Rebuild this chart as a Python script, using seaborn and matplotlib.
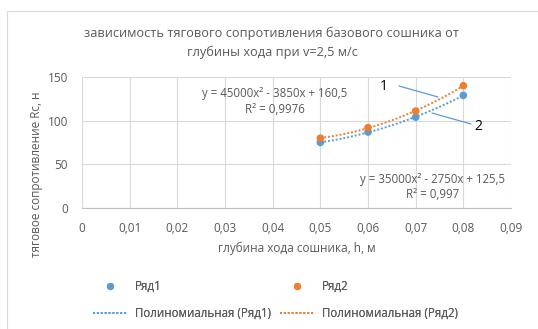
import numpy as np
import pandas as pd
import matplotlib
matplotlib.use("Agg")
import matplotlib.pyplot as plt
import seaborn as sns
from matplotlib.lines import Line2D
from matplotlib.patches import Rectangle

# data
depth = [0.05, 0.06, 0.07, 0.08]
row1 = [75, 87, 104, 129]
row2 = [80, 92, 111, 140]
series_names = ["Ряд1", "Ряд2"]
trend_names = ["Полиномиальная (Ряд1)", "Полиномиальная (Ряд2)"]
x_ticks = [0, 0.01, 0.02, 0.03, 0.04, 0.05, 0.06, 0.07, 0.08, 0.09]
x_tick_labels = ["0", "0,01", "0,02", "0,03", "0,04", "0,05", "0,06", "0,07", "0,08", "0,09"]
y_ticks = [0, 50, 100, 150]
eq1 = "y = 45000x² - 3850x + 160,5\nR² = 0,9976"
eq2 = "y = 35000x² - 2750x + 125,5\nR² = 0,997"
title = "зависимость тягового сопротивления базового сошника от\nглубины хода при v=2,5 м/с"
xlabel = "глубина хода сошника, h, м"
ylabel = "тяговое сопротивление Rc, н"

sns.set_theme(style="white")
plt.rcParams['font.family'] = ['Open Sans', 'DejaVu Sans']

BLUE = "#5B9BD5"
ORANGE = "#ED7D31"
GRAY = "#595959"
GRID = "#D9D9D9"

fig = plt.figure(figsize=(5.38, 3.29), dpi=100)
W, H = 538, 329
ax = fig.add_axes([82 / W, 1 - 208 / H, (511 - 82) / W, (208 - 77) / H])

df = pd.DataFrame({
    "x": depth * 2,
    "y": row1 + row2,
    "s": [series_names[0]] * 4 + [series_names[1]] * 4,
})

# trend lines (polynomial degree 2 fitted from data)
xs = np.linspace(depth[0], depth[-1], 60)
tr = []
for name, vals in zip(trend_names, [row1, row2]):
    c = np.polyfit(depth, vals, 2)
    tr.append(pd.DataFrame({"x": xs, "y": np.polyval(c, xs), "s": name}))
tdf = pd.concat(tr)
sns.lineplot(data=tdf, x="x", y="y", hue="s", palette=[BLUE, ORANGE],
             linestyle=(0, (1, 1)), linewidth=1.4, ax=ax, legend=False)
sns.scatterplot(data=df, x="x", y="y", hue="s", palette=[BLUE, ORANGE],
                s=30, edgecolor="none", ax=ax, legend=False, zorder=5)

ax.set_xlim(0, 0.09)
ax.set_ylim(0, 150)
ax.set_xticks(x_ticks)
ax.set_xticklabels(x_tick_labels)
ax.set_yticks(y_ticks)
ax.tick_params(axis="both", length=0, labelsize=8.5, colors=GRAY, pad=10)
ax.grid(True, color=GRID, linewidth=0.8)
for side in ["top", "right", "left"]:
    ax.spines[side].set_visible(False)
ax.spines["bottom"].set_color("#BFBFBF")
ax.spines["bottom"].set_linewidth(0.8)
ax.set_xlabel("")
ax.set_ylabel("")

fig.text(297 / W, 1 - 248 / H, xlabel, ha="center", va="center", fontsize=8.5, color=GRAY)
fig.text(37 / W, 1 - 174 / H, ylabel, ha="center", va="center", rotation=90, fontsize=8.5, color=GRAY)
fig.text(272 / W, 1 - 43 / H, title, ha="center", va="center", fontsize=9.15, color=GRAY,
         linespacing=1.5)

# equations
fig.text(275 / W, 1 - 101.5 / H, eq1, ha="center", va="center", fontsize=8.3, color=GRAY,
         linespacing=1.3)
fig.text(433 / W, 1 - 187 / H, eq2, ha="center", va="center", fontsize=8.3, color=GRAY,
         linespacing=1.3)

# labels 1 and 2 with leader lines
fig.text(384 / W, 1 - 87 / H, "1", ha="center", va="center", fontsize=10, color="black")
fig.text(478 / W, 1 - 127 / H, "2", ha="center", va="center", fontsize=10, color="black")
fig.add_artist(Line2D([399 / W, 438 / W], [1 - 86 / H, 1 - 97 / H], color=BLUE, linewidth=0.9))
fig.add_artist(Line2D([432 / W, 471 / W], [1 - 113 / H, 1 - 124 / H], color=BLUE, linewidth=0.9))

# legend: two columns placed separately
def col_handles(color):
    return [
        Line2D([], [], marker="o", linestyle="none", color=color, markersize=4.2),
        Line2D([], [], color=color, linestyle=(0, (1, 1)), linewidth=1.4),
    ]

for color, lbls, x0 in [(BLUE, [series_names[0], trend_names[0]], 93),
                        (ORANGE, [series_names[1], trend_names[1]], 280)]:
    leg = fig.legend(col_handles(color), lbls, ncol=1, loc="center left",
                     bbox_to_anchor=(x0 / W, 1 - 300 / H), borderpad=0, borderaxespad=0,
                     frameon=False, fontsize=8.3, labelcolor=GRAY, handlelength=3.0,
                     handletextpad=0.65, labelspacing=1.15)
    fig.add_artist(leg)

# chart border
fig.add_artist(Rectangle((7 / W, -0.1), 1.2, 1.1 - 11 / H, transform=fig.transFigure,
                         fill=False, edgecolor="#D9D9D9", linewidth=0.8))

fig.savefig("out.png", dpi=100, facecolor="white")
